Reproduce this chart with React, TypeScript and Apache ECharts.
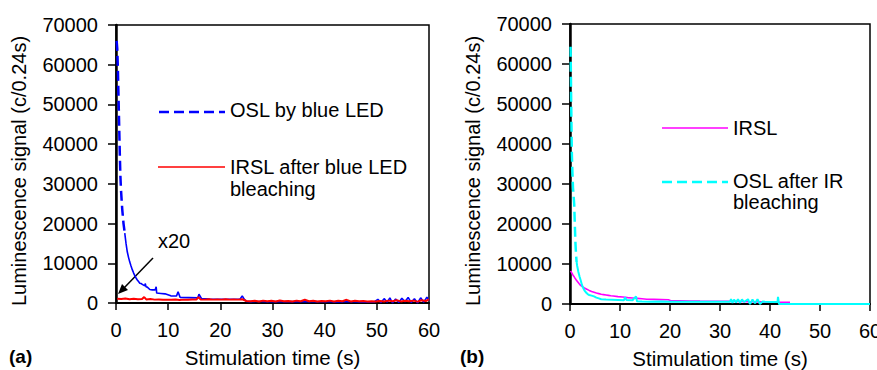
import React, { useEffect, useRef } from "react";
import * as echarts from "echarts";

// ---------- data ----------
// Panel (a): OSL by blue LED
const blueOslTime = [0.12, 0.24, 0.36, 0.48, 0.6, 0.72, 0.84, 0.96, 1.08, 1.2, 1.44, 1.68, 1.92, 2.16, 2.4, 2.64, 2.88, 3.12, 3.36, 3.6, 3.84, 4.08, 4.32, 4.56, 4.8, 5.04, 5.28, 5.52, 5.6, 5.76, 6.0, 6.48, 6.96, 7.5, 7.7, 7.8, 8.6, 9.4, 10.5, 11.6, 11.9, 12.3, 14, 15.7, 15.9, 16.4, 18, 20, 22, 23.8, 24.2, 24.6, 25, 26, 27.5, 29, 30.5, 32, 33.5, 35, 36.5, 38, 39.5, 41, 42.5, 44, 45.5, 47, 48.5, 49.5, 50.2, 50.8, 51.4, 52, 52.5, 53, 53.6, 54.2, 54.8, 55.4, 56, 56.6, 57.2, 57.8, 58.4, 59, 59.6, 60];
const blueOslValue = [66000, 64000, 59000, 52000, 45000, 38000, 32000, 28500, 25900, 23500, 20000, 17600, 15000, 12900, 11500, 10300, 9300, 8400, 7600, 6900, 6300, 5800, 5400, 5000, 4900, 4700, 4500, 4300, 4900, 4100, 4000, 3400, 3300, 3300, 4100, 2500, 2400, 2300, 1800, 1750, 2800, 1400, 1350, 1300, 2200, 1100, 1000, 950, 950, 1000, 1800, 900, 400, 350, 380, 320, 350, 300, 360, 320, 300, 340, 300, 330, 280, 320, 300, 260, 300, 250, 900, 100, 1100, 200, 1300, 0, 1000, 150, 1200, 300, 1400, 100, 1100, 0, 1300, 200, 1500, 600];

// Panel (a): IRSL after blue LED bleaching (x20)
const irslAfterBlueTime = [0.24, 1, 1.8, 2.6, 3.4, 4.2, 5, 5.4, 5.8, 6.6, 7.4, 8.2, 9, 9.8, 10.6, 11.4, 12.2, 13, 13.8, 14.6, 15.4, 15.8, 16.2, 17, 17.8, 18.6, 19.4, 20.2, 21, 21.8, 22.6, 23.4, 24.2, 25, 25.8, 26.6, 27.4, 28.2, 29, 29.8, 30.6, 31.4, 32.2, 33, 33.8, 34.6, 35.4, 36.2, 37, 37.8, 38.6, 39.4, 40.2, 41, 41.8, 42.6, 43.4, 44.2, 45, 45.8, 46.6, 47.4, 48.2, 49, 49.8, 50.6, 51.4, 52.2, 53, 53.8, 54.6, 55.4, 56.2, 57, 57.8, 58.6, 59.4, 60];
const irslAfterBlueValue = [1100, 1000, 1150, 950, 1050, 950, 1000, 1500, 900, 1000, 850, 900, 800, 850, 800, 900, 750, 850, 800, 900, 850, 1500, 900, 850, 950, 850, 900, 850, 950, 850, 900, 850, 950, 500, 450, 550, 400, 600, 450, 550, 400, 650, 450, 500, 400, 600, 450, 800, 450, 550, 400, 500, 450, 600, 400, 550, 450, 800, 400, 550, 450, 500, 400, 450, 350, 500, 400, 600, 450, 700, 400, 550, 450, 600, 350, 700, 500, 900];

// Panel (b): IRSL
const irslTime = [0.12, 0.36, 0.6, 0.84, 1.08, 1.32, 1.56, 1.8, 2.04, 2.4, 2.88, 3.36, 3.84, 4.32, 4.8, 5.28, 5.76, 6.24, 6.72, 7.2, 7.68, 8.16, 8.64, 9.6, 10.56, 11.52, 12.48, 13.44, 14.4, 15.36, 16.8, 18.24, 19.68, 20.16, 22, 24, 26, 28, 30, 32, 34, 36, 38, 40, 42, 44];
const irslValue = [8300, 7800, 7200, 6800, 6300, 5900, 5500, 5100, 4750, 4400, 4000, 3700, 3400, 3150, 2950, 2750, 2600, 2450, 2350, 2250, 2150, 2050, 2000, 1850, 1750, 1600, 1500, 1400, 1300, 1200, 1150, 1100, 1050, 800, 780, 760, 720, 700, 680, 650, 620, 580, 540, 500, 450, 400];

// Panel (b): OSL after IR bleaching
const oslAfterIrTime = [0.12, 0.24, 0.36, 0.48, 0.6, 0.72, 0.84, 0.96, 1.08, 1.2, 1.32, 1.44, 1.68, 1.92, 2.16, 2.4, 2.64, 2.88, 3.12, 3.36, 3.6, 3.84, 4.32, 4.8, 5.28, 5.76, 6.24, 7.2, 8.4, 9.6, 10.8, 11.0, 11.3, 12.5, 13.2, 13.4, 14.4, 16, 18, 20, 22, 24, 26, 28, 30, 32, 32.2, 32.5, 32.8, 33.2, 33.6, 34, 34.4, 34.8, 35.6, 36, 36.5, 37, 37.5, 38, 38.5, 39, 40, 41.5, 41.6, 41.8, 44, 50, 60];
const oslAfterIrValue = [64300, 50000, 38000, 33000, 29000, 27000, 25000, 20000, 15500, 12500, 10500, 9500, 8000, 6800, 5800, 4700, 4000, 3400, 3000, 2700, 2400, 2250, 2100, 1900, 1600, 1400, 1200, 1100, 1050, 1000, 950, 1700, 1000, 950, 1900, 700, 600, 580, 600, 570, 580, 560, 590, 570, 580, 560, 1200, 300, 1100, 400, 1200, 300, 1150, 500, 1200, 0, 1100, 200, 1200, 0, 600, 550, 520, 500, 1800, 0, 0, 0, 0];

const xTicks = { min: 0, max: 60, interval: 10 };
const yTicks = { min: 0, max: 70000, interval: 10000 };

const FONT = "'Liberation Sans', Arial, sans-serif";

const pairs = (t: number[], v: number[]) => t.map((x, i) => [x, v[i]]);
const upTo = (t: number[], v: number[], end: number) =>
  pairs(t, v).filter((p) => p[0] <= end);
const from = (t: number[], v: number[], start: number) =>
  pairs(t, v).filter((p) => p[0] >= start);

const BLUE_DASH_END = 1.68;
const CYAN_DASH_END = 1.32;

function xAxis(gridIndex: number) {
  return {
    type: "value",
    gridIndex,
    ...xTicks,
    axisLine: { show: true, onZero: false, lineStyle: { color: "#000", width: 2 } },
    axisTick: { show: true, inside: false, length: 7, lineStyle: { color: "#000", width: 1.5 } },
    axisLabel: { color: "#000", fontSize: 20, fontFamily: FONT, margin: 17, formatter: (v: number) => String(v) },
    splitLine: { show: false },
    name: "Stimulation time (s)",
    nameLocation: "middle",
    nameGap: 44,
    nameTextStyle: { color: "#000", fontSize: 20.5, fontFamily: FONT },
  };
}

function yAxis(gridIndex: number) {
  return {
    type: "value",
    gridIndex,
    ...yTicks,
    axisLine: { show: true, onZero: false, lineStyle: { color: "#000", width: 2.5 } },
    axisTick: { show: true, inside: false, length: 8, lineStyle: { color: "#000", width: 1.5 } },
    axisLabel: { color: "#000", fontSize: 20, fontFamily: FONT, margin: 18, formatter: (v: number) => String(v) },
    splitLine: { show: false },
    name: "Luminescence signal (c/0.24s)",
    nameLocation: "middle",
    nameGap: 87,
    nameTextStyle: { color: "#000", fontSize: 20, fontFamily: FONT, padding: [0, 14, 0, 0] },
  };
}

function txt(text: string, x: number, y: number, extra: any = {}) {
  return {
    type: "text",
    x,
    y,
    style: {
      text,
      fill: "#000",
      fontSize: 20,
      fontFamily: FONT,
      align: "left",
      verticalAlign: "middle",
      textAlign: "left",
      textVerticalAlign: "middle",
      ...extra,
    },
  };
}

export default function App() {
  const ref = useRef<HTMLDivElement>(null);
  useEffect(() => {
    if (!ref.current) return;
    const chart = echarts.init(ref.current, null, { renderer: "svg" });
    const line = (name: string, data: any[], color: string, width: number, dashed: boolean, xi: number, z: number) => ({
      type: "line",
      name,
      data,
      xAxisIndex: xi,
      yAxisIndex: xi,
      showSymbol: false,
      symbol: "none",
      z,
      lineStyle: { color, width, type: dashed ? [10, 5] : "solid" },
      itemStyle: { color },
    });
    const gridBase = {
      show: true,
      borderColor: "#000",
      borderWidth: 1.5,
      backgroundColor: "transparent",
      containLabel: false,
      outerBoundsMode: "none",
    };
    chart.setOption({
      animation: false,
      backgroundColor: "#fff",
      grid: [
        { ...gridBase, left: 116, top: 25, width: 313, height: 278 },
        { ...gridBase, left: 570, top: 24, width: 300, height: 280 },
      ],
      xAxis: [xAxis(0), xAxis(1)],
      yAxis: [yAxis(0), yAxis(1)],
      series: [
        line("OSL by blue LED", upTo(blueOslTime, blueOslValue, BLUE_DASH_END), "#0000ff", 2.5, true, 0, 2),
        line("OSL by blue LED ", from(blueOslTime, blueOslValue, BLUE_DASH_END), "#0000ff", 1.6, false, 0, 2),
        line("IRSL after blue LED bleaching", pairs(irslAfterBlueTime, irslAfterBlueValue), "#ff0000", 2, false, 0, 3),
        line("IRSL", pairs(irslTime, irslValue), "#ff00ff", 1.6, false, 1, 2),
        line("OSL after IR bleaching", upTo(oslAfterIrTime, oslAfterIrValue, CYAN_DASH_END), "#00ffff", 2.5, true, 1, 3),
        line("OSL after IR bleaching ", from(oslAfterIrTime, oslAfterIrValue, CYAN_DASH_END), "#00ffff", 2, false, 1, 3),
      ],
      graphic: [
        // legend (a)
        { type: "line", shape: { x1: 159, y1: 112, x2: 225, y2: 112 }, style: { stroke: "#0000ff", lineWidth: 2.5, lineDash: [10, 5] } },
        txt("OSL by blue LED", 230, 110),
        { type: "line", shape: { x1: 158, y1: 167, x2: 225, y2: 167 }, style: { stroke: "#ff0000", lineWidth: 1.5 } },
        txt("IRSL after blue LED", 230, 167),
        txt("bleaching", 230, 189),
        // x20 annotation
        txt("x20", 158, 241),
        { type: "line", shape: { x1: 153, y1: 258, x2: 124, y2: 288 }, style: { stroke: "#000", lineWidth: 1.5 } },
        { type: "polygon", shape: { points: [[118, 294], [128, 290], [122, 284]] }, style: { fill: "#000" } },
        // legend (b)
        { type: "line", shape: { x1: 662, y1: 128, x2: 728, y2: 128 }, style: { stroke: "#ff00ff", lineWidth: 1.6 } },
        txt("IRSL", 733, 128),
        { type: "line", shape: { x1: 662, y1: 182, x2: 728, y2: 182 }, style: { stroke: "#00ffff", lineWidth: 2.5, lineDash: [10, 5] } },
        txt("OSL after IR", 733, 181),
        txt("bleaching", 733, 202),
        // panel labels
        txt("(a)", 9, 356, { fontWeight: "bold", fontSize: 19 }),
        txt("(b)", 460, 356, { fontWeight: "bold", fontSize: 19 }),
      ],
    });
    return () => chart.dispose();
  }, []);
  return (
    <div
      ref={ref}
      style={{ position: "absolute", left: 0, top: 0, width: 877, height: 370, background: "#fff" }}
    />
  );
}
